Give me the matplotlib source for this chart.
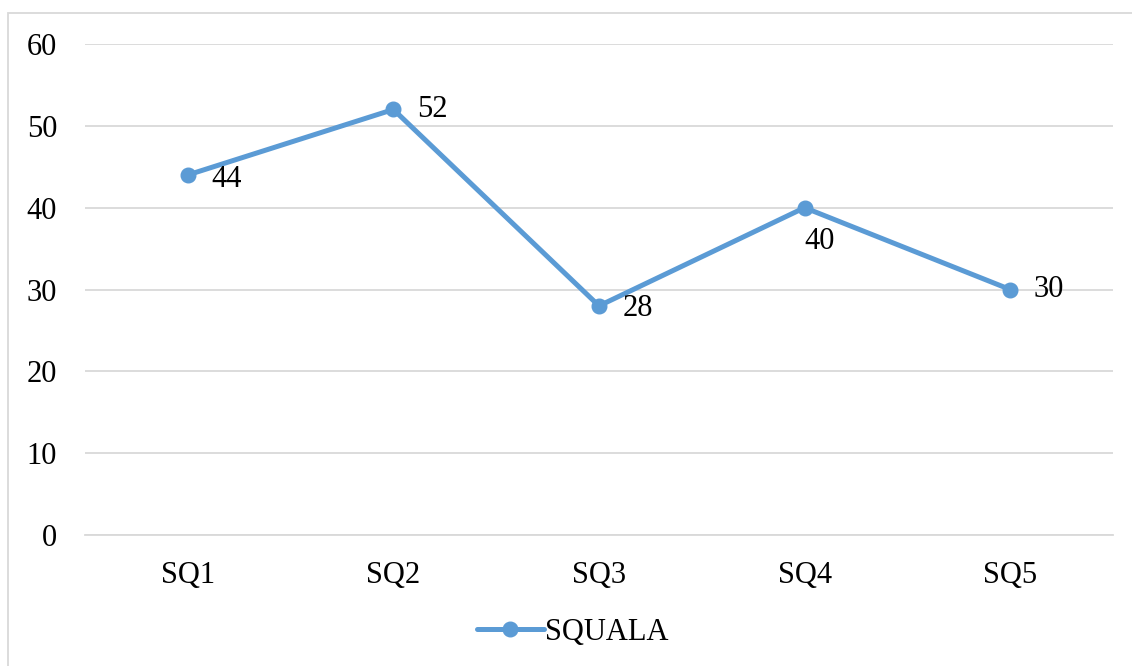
import matplotlib.pyplot as plt
from matplotlib.patches import Rectangle

categories = ['SQ1', 'SQ2', 'SQ3', 'SQ4', 'SQ5']
values = [44, 52, 28, 40, 30]
series_name = 'SQUALA'
y_ticks = [0, 10, 20, 30, 40, 50, 60]

# label offsets in points (Excel pushed "40" below the marker)
label_offsets = [(17, -3), (17, 0), (17, -2), (0, -24), (17, 0)]

plt.rcParams['font.family'] = ['Liberation Serif', 'DejaVu Serif']

fig = plt.figure(figsize=(11.32, 6.66), dpi=100)
ax = fig.add_axes([0.0751, 0.1967, 0.9081, 0.7372])

blue = '#5B9BD5'
x = list(range(len(categories)))
ax.plot(x, values, color=blue, linewidth=3.6, marker='o', markersize=10.5,
        solid_capstyle='round', label=series_name, zorder=3)

for xi, v, off in zip(x, values, label_offsets):
    ax.annotate(str(v), (xi, v), xytext=off, textcoords='offset points',
                ha='left', va='center', fontsize=22, color='black')

ax.set_xlim(-0.5, len(categories) - 0.5)
ax.set_ylim(0, 60)
ax.set_yticks(y_ticks)
ax.set_xticks(x)
ax.set_xticklabels(categories)
ax.tick_params(axis='both', length=0, labelsize=22, colors='black')
ax.tick_params(axis='y', pad=20)
ax.tick_params(axis='x', pad=19)
ax.grid(axis='y', color='#D9D9D9', linewidth=1.3)
ax.set_axisbelow(True)
for s in ['top', 'right', 'left']:
    ax.spines[s].set_visible(False)
ax.spines['bottom'].set_color('#D9D9D9')
ax.spines['bottom'].set_linewidth(1.3)

leg = fig.legend(loc='center', bbox_to_anchor=(0.506, 0.051), frameon=False,
                 fontsize=22, handlelength=2.2, handletextpad=0.05)

fig.patches.append(Rectangle((8 / 1132, -0.01), 1.0, 1 - 13 / 666 + 0.01,
                             transform=fig.transFigure, fill=False,
                             edgecolor='#D9D9D9', linewidth=1.3))

fig.savefig('out.png', dpi=100)
